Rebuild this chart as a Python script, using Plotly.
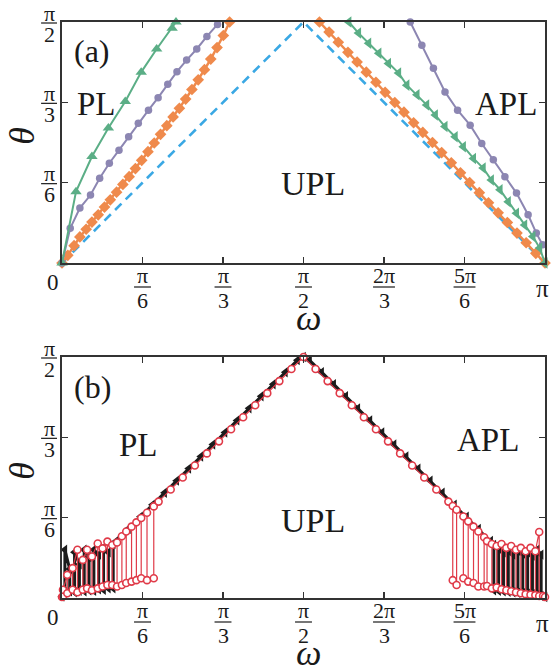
import plotly.graph_objects as go

# ---------------- data (all angles in units of pi) ----------------
# tick positions / labels
X_TICKS = [1/6, 1/3, 1/2, 2/3, 5/6]
X_NUM = ["π", "π", "π", "2π", "5π"]
X_DEN = ["6", "3", "2", "3", "6"]
Y_TICKS = [1/6, 1/3, 1/2]
Y_NUM = ["π", "π", "π"]
Y_DEN = ["6", "3", "2"]

# Panel (a)
DASH_W = [0.0, 0.5, 1.0]
DASH_T = [0.0, 0.5, 0.0]

ORANGE_L_W = [0.000, 0.012, 0.025, 0.037, 0.050, 0.062, 0.075, 0.088, 0.100, 0.113, 0.126, 0.139,
              0.152, 0.165, 0.178, 0.191, 0.204, 0.217, 0.230, 0.243, 0.256, 0.269, 0.282, 0.295,
              0.308, 0.321, 0.334, 0.347]
ORANGE_L_T = [0.000, 0.016, 0.036, 0.054, 0.070, 0.085, 0.100, 0.116, 0.131, 0.147, 0.163, 0.179,
              0.196, 0.213, 0.231, 0.249, 0.267, 0.285, 0.303, 0.321, 0.340, 0.360, 0.380, 0.401,
              0.423, 0.447, 0.472, 0.500]
ORANGE_R_W = [0.533, 0.553, 0.572, 0.592, 0.611, 0.630, 0.650, 0.669, 0.689, 0.708, 0.728, 0.747,
              0.767, 0.786, 0.806, 0.825, 0.844, 0.864, 0.883, 0.903, 0.922, 0.942, 0.961, 0.981, 1.000]
ORANGE_R_T = [0.500, 0.479, 0.458, 0.437, 0.417, 0.396, 0.375, 0.354, 0.333, 0.313, 0.291, 0.271,
              0.250, 0.229, 0.208, 0.187, 0.167, 0.146, 0.125, 0.104, 0.084, 0.062, 0.042, 0.020, 0.000]

PURPLE_L_W = [0.000, 0.017, 0.037, 0.059, 0.078, 0.098, 0.118, 0.138, 0.158, 0.179, 0.199, 0.219,
              0.238, 0.258, 0.279, 0.300, 0.322]
PURPLE_L_T = [0.000, 0.072, 0.114, 0.141, 0.176, 0.207, 0.234, 0.262, 0.290, 0.317, 0.343, 0.371,
              0.397, 0.421, 0.444, 0.470, 0.495]
PURPLE_R_W = [0.721, 0.745, 0.769, 0.793, 0.819, 0.845, 0.869, 0.893, 0.917, 0.941, 0.965, 0.982, 0.995]
PURPLE_R_T = [0.500, 0.452, 0.404, 0.355, 0.317, 0.286, 0.248, 0.214, 0.179, 0.145, 0.100, 0.062, 0.038]

GREEN_L_W = [0.000, 0.029, 0.062, 0.096, 0.131, 0.164, 0.196, 0.228, 0.236]
GREEN_L_T = [0.000, 0.148, 0.221, 0.280, 0.335, 0.396, 0.444, 0.487, 0.500]
GREEN_R_W = [0.594, 0.614, 0.635, 0.656, 0.676, 0.697, 0.714, 0.735, 0.755, 0.773, 0.793, 0.814,
             0.831, 0.852, 0.872, 0.889, 0.907, 0.924, 0.941, 0.958, 0.975, 0.989, 1.000]
GREEN_R_T = [0.500, 0.477, 0.456, 0.435, 0.414, 0.394, 0.369, 0.349, 0.328, 0.307, 0.283, 0.262,
             0.241, 0.217, 0.197, 0.172, 0.152, 0.127, 0.103, 0.079, 0.055, 0.031, 0.000]

# Panel (b)
BLACK_W = [0.000,
           0.006, 0.006, 0.016, 0.016, 0.026, 0.026, 0.036, 0.036, 0.046, 0.046, 0.056, 0.056,
           0.066, 0.066, 0.076, 0.076, 0.086, 0.086, 0.096, 0.096, 0.106, 0.106,
           0.1125, 0.1375, 0.1625, 0.1875, 0.2125, 0.2375, 0.2625, 0.2875, 0.3125, 0.3375,
           0.3625, 0.3875, 0.4125, 0.4375, 0.4625, 0.4875, 0.5000,
           0.5125, 0.5375, 0.5625, 0.5875, 0.6125, 0.6375, 0.6625, 0.6875, 0.7125, 0.7375,
           0.7625, 0.7875, 0.8125, 0.8375, 0.8625, 0.8875,
           0.894, 0.894, 0.904, 0.904, 0.914, 0.914, 0.924, 0.924, 0.934, 0.934, 0.944, 0.944,
           0.954, 0.954, 0.964, 0.964, 0.974, 0.974, 0.984, 0.984, 0.992, 0.992, 1.000]
BLACK_T = [0.003,
           0.012, 0.100, 0.060, 0.014, 0.012, 0.095, 0.070, 0.015, 0.014, 0.100, 0.085, 0.016,
           0.015, 0.100, 0.090, 0.018, 0.017, 0.105, 0.095, 0.020, 0.020, 0.112,
           0.1185, 0.1435, 0.1685, 0.1935, 0.2185, 0.2435, 0.2685, 0.2935, 0.3185, 0.3435,
           0.3685, 0.3935, 0.4185, 0.4435, 0.4685, 0.4935, 0.5000,
           0.4935, 0.4685, 0.4435, 0.4185, 0.3935, 0.3685, 0.3435, 0.3185, 0.2935, 0.2685,
           0.2435, 0.2185, 0.1935, 0.1685, 0.1435, 0.1185,
           0.110, 0.016, 0.015, 0.105, 0.095, 0.014, 0.013, 0.100, 0.090, 0.012, 0.011, 0.098,
           0.092, 0.010, 0.009, 0.095, 0.088, 0.008, 0.007, 0.100, 0.090, 0.004, 0.002]

RED_W = [0.000,
         0.002, 0.002, 0.011, 0.011, 0.022, 0.022, 0.032, 0.032, 0.043, 0.043, 0.052, 0.052,
         0.062, 0.062, 0.074, 0.074, 0.084, 0.084, 0.094, 0.094, 0.104, 0.104, 0.114, 0.114,
         0.124, 0.124, 0.133, 0.133, 0.144, 0.144, 0.154, 0.154, 0.164, 0.164, 0.176, 0.176,
         0.190, 0.190,
         0.200, 0.225, 0.250, 0.275, 0.300, 0.325, 0.350, 0.375, 0.400, 0.425, 0.450, 0.475,
         0.500,
         0.525, 0.550, 0.575, 0.600, 0.625, 0.650, 0.675, 0.700, 0.725, 0.750, 0.775, 0.800,
         0.809, 0.809, 0.817, 0.817, 0.831, 0.831, 0.841, 0.841, 0.852, 0.852, 0.862, 0.862,
         0.874, 0.874,
         0.880, 0.880, 0.890, 0.890, 0.900, 0.900, 0.910, 0.910, 0.920, 0.920, 0.930, 0.930,
         0.940, 0.940, 0.950, 0.950, 0.960, 0.960, 0.970, 0.970, 0.980, 0.980, 0.988, 0.988,
         0.996, 1.000]
RED_T = [0.002,
         0.003, 0.017, 0.048, 0.010, 0.017, 0.062, 0.100, 0.012, 0.017, 0.079, 0.100, 0.020,
         0.016, 0.086, 0.113, 0.020, 0.024, 0.103, 0.117, 0.027, 0.027, 0.110, 0.115, 0.024,
         0.027, 0.128, 0.138, 0.031, 0.034, 0.148, 0.157, 0.037, 0.041, 0.166, 0.177, 0.037,
         0.041, 0.190,
         0.200, 0.225, 0.250, 0.275, 0.300, 0.325, 0.350, 0.375, 0.400, 0.425, 0.450, 0.475,
         0.500,
         0.475, 0.450, 0.425, 0.400, 0.375, 0.350, 0.325, 0.300, 0.275, 0.250, 0.225, 0.200,
         0.191, 0.037, 0.027, 0.183, 0.169, 0.041, 0.034, 0.159, 0.148, 0.031, 0.024, 0.138,
         0.126, 0.024,
         0.025, 0.118, 0.112, 0.020, 0.022, 0.108, 0.112, 0.018, 0.016, 0.104, 0.108, 0.014,
         0.012, 0.100, 0.104, 0.010, 0.008, 0.097, 0.104, 0.007, 0.006, 0.097, 0.137, 0.004,
         0.004, 0.002]

# ---------------- styling ----------------
C_BLUE = "#3AA8E4"
C_ORANGE = "#EF8A4C"
C_PURPLE = "#8C86B2"
C_GREEN = "#5BAE86"
C_BLACK = "#1c1c1c"
C_RED = "#E03A48"
AX = "#333333"
TXT = "#1a1a1a"
SERIF = "Liberation Serif, Times New Roman, serif"

W, H = 553, 672
ML, MR, MT, MB = 62, 6, 22, 74
PW = W - ML - MR          # 485
PH = H - MT - MB          # 576
PLOT_BOTTOM = H - MB      # 598


def px2paper(px):
    return (px - ML) / PW


def py2paper(py):
    return (PLOT_BOTTOM - py) / PH


PANELS = [
    dict(xa="x", ya="y", top=22, bottom=263),
    dict(xa="x2", ya="y2", top=357, bottom=598),
]

fig = go.Figure()


def add(x, y, xa, ya, color, width, symbol=None, msize=0, mfill=None, mline=0, dash="solid", mlinecolor=None):
    mode = "lines+markers" if symbol else "lines"
    marker = None
    if symbol:
        marker = dict(symbol=symbol, size=msize, color=mfill or color,
                      line=dict(color=mlinecolor or color, width=mline))
    fig.add_trace(go.Scatter(x=x, y=y, xaxis=xa, yaxis=ya, mode=mode,
                             line=dict(color=color, width=width, dash=dash),
                             marker=marker, cliponaxis=False, showlegend=False,
                             hoverinfo="skip"))


# panel (a)
add(DASH_W, DASH_T, "x", "y", C_BLUE, 2.6, dash="9px,6px")
add(ORANGE_L_W, ORANGE_L_T, "x", "y", C_ORANGE, 2.5, "diamond", 9)
add(ORANGE_R_W, ORANGE_R_T, "x", "y", C_ORANGE, 2.5, "diamond", 9)
add(PURPLE_L_W, PURPLE_L_T, "x", "y", C_PURPLE, 2.0, "circle", 7.5)
add(PURPLE_R_W, PURPLE_R_T, "x", "y", C_PURPLE, 2.0, "circle", 7.5)
add(GREEN_L_W, GREEN_L_T, "x", "y", C_GREEN, 2.0, "triangle-up", 10)
add(GREEN_R_W, GREEN_R_T, "x", "y", C_GREEN, 2.0, "triangle-left", 10)

# panel (b)
add(BLACK_W, BLACK_T, "x2", "y2", C_BLACK, 3.0, "triangle-left", 9)
add(RED_W, RED_T, "x2", "y2", C_RED, 1.2, "circle", 7, mfill="white", mline=1.6, mlinecolor=C_RED)

axis_common = dict(range=[0, 1], showgrid=False, zeroline=False, showline=True,
                   linecolor=AX, linewidth=1.8, mirror="ticks", ticks="inside",
                   ticklen=6, tickwidth=1.6, tickcolor=AX, showticklabels=False,
                   fixedrange=True)
yaxis_common = dict(axis_common)
yaxis_common["range"] = [0, 0.5]

fig.update_layout(
    width=W, height=H,
    margin=dict(l=ML, r=MR, t=MT, b=MB, pad=0),
    paper_bgcolor="white", plot_bgcolor="white",
    hovermode=False,
    xaxis=dict(axis_common, domain=[0, 1], anchor="y", tickvals=X_TICKS),
    yaxis=dict(yaxis_common, domain=[py2paper(263), 1], anchor="x", tickvals=Y_TICKS),
    xaxis2=dict(axis_common, domain=[0, 1], anchor="y2", tickvals=X_TICKS),
    yaxis2=dict(yaxis_common, domain=[0, py2paper(357)], anchor="x2", tickvals=Y_TICKS),
)

annotations = []
shapes = []


def text(x, y, s, size, italic=False, xref="paper", angle=0):
    if italic:
        s = "<i>" + s + "</i>"
    annotations.append(dict(x=x, y=y, xref=xref, yref="paper", text=s, showarrow=False,
                            xanchor="center", yanchor="middle", textangle=angle,
                            font=dict(family=SERIF, size=size, color=TXT)))


def bar(xc_px, yc_px, half):
    shapes.append(dict(type="line", xref="paper", yref="paper",
                       x0=px2paper(xc_px - half), x1=px2paper(xc_px + half),
                       y0=py2paper(yc_px), y1=py2paper(yc_px),
                       line=dict(color=TXT, width=1.2)))


for p in PANELS:
    b, t = p["bottom"], p["top"]
    ph = b - t
    # x tick labels
    for v, n, d in zip(X_TICKS, X_NUM, X_DEN):
        xc = ML + PW * v
        text(px2paper(xc), py2paper(b + 12), n, 22)
        bar(xc, b + 24, 8.5 if len(n) == 1 else 11)
        text(px2paper(xc), py2paper(b + 37), d, 22)
    text(px2paper(53), py2paper(b + 19), "0", 23)
    text(px2paper(544.5), py2paper(b + 25), "π", 25)
    # y tick labels
    for v, n, d in zip(Y_TICKS, Y_NUM, Y_DEN):
        yc = b - ph * (v / 0.5)
        text(px2paper(49), py2paper(yc - 9), n, 22)
        bar(49, yc + 1, 8)
        text(px2paper(49), py2paper(yc + 12), d, 22)
    # axis titles
    text(px2paper(310), py2paper(b + 55), "ω", 36, italic=True)
    text(px2paper(21), py2paper((t + b) / 2 - 7), "θ", 36, italic=True, angle=-90)

# region labels
text(px2paper(92), py2paper(51), "(a)", 32)
text(px2paper(96.5), py2paper(104.5), "PL", 33)
text(px2paper(508), py2paper(104), "APL", 33)
text(px2paper(314), py2paper(183.5), "UPL", 34)
text(px2paper(92.5), py2paper(386.5), "(b)", 32)
text(px2paper(139), py2paper(445), "PL", 33)
text(px2paper(489.5), py2paper(440), "APL", 33)
text(px2paper(314), py2paper(520), "UPL", 34)

fig.update_layout(annotations=annotations, shapes=shapes)
fig.write_html("out.html", config={"displayModeBar": False, "staticPlot": True},
               post_script="document.body.style.margin='0px';")
